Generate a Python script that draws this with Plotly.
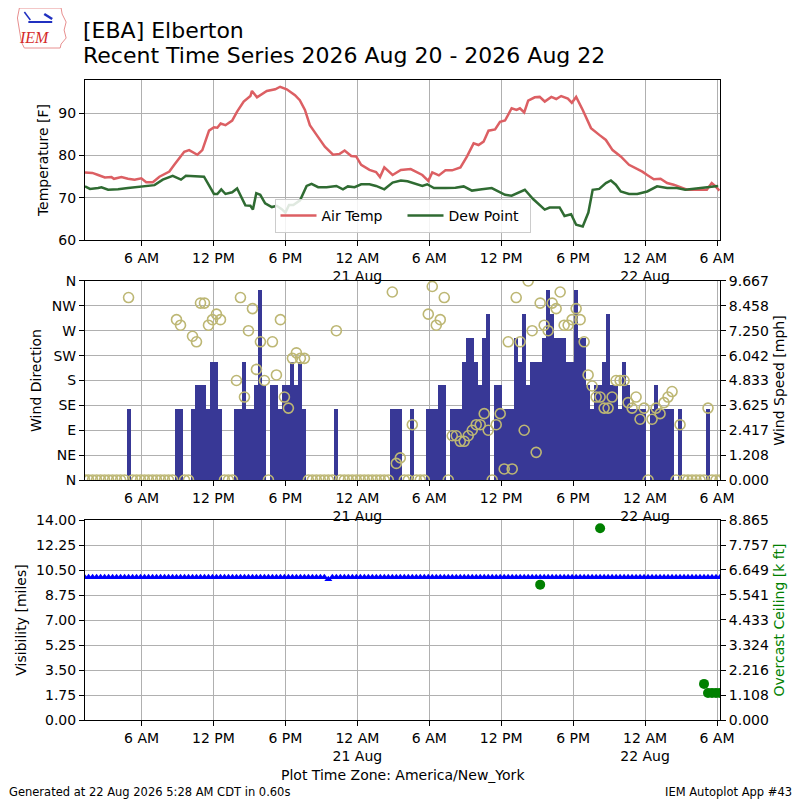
import numpy as np
import pandas as pd
import plotly.graph_objects as go

# -------------------------------
# Data
# -------------------------------

base = pd.Timestamp("2026-08-20 00:00")

# hours after 20 Aug 00:00 (America/New_York)
temp_hours = [1.28, 1.9, 2.38, 2.94, 3.49, 3.7, 4.32, 4.87, 5.42, 5.98, 6.39, 6.94,
              7.49, 8.32, 8.73, 9.56, 9.97, 10.66, 11.07, 11.63, 12.04, 12.32, 12.6,
              13.0, 13.56, 13.97, 14.52, 15.08, 15.21, 15.63, 16.45, 17.15, 17.56,
              18.11, 18.8, 19.2, 19.63, 20.04, 20.6, 21.29, 21.97, 22.53, 22.94,
              23.49, 23.9, 24.32, 25.01, 25.56, 25.89, 26.25, 26.94, 27.63, 28.45,
              28.87, 29.42, 29.92, 30.25, 30.8, 31.35, 31.9, 32.6, 33.15, 33.7,
              34.11, 34.53, 34.94, 35.49, 35.9, 36.32, 36.87, 37.28, 37.56, 37.92,
              38.25, 38.8, 39.21, 39.63, 40.18, 40.59, 41.0, 41.56, 41.89, 42.25,
              42.8, 43.49, 44.18, 44.73, 45.29, 45.97, 46.66, 47.21, 47.77, 48.18,
              48.73, 49.29, 49.84, 50.39, 50.94, 51.5, 53.15, 53.56, 53.84, 54.2]
temp_f = [76.0, 75.9, 75.4, 74.8, 74.9, 74.5, 74.9, 74.5, 74.3, 74.6, 73.7, 73.7,
          75.0, 76.2, 77.8, 80.9, 81.3, 80.2, 81.3, 85.9, 86.7, 86.6, 87.6,
          87.2, 88.3, 90.4, 92.8, 94.1, 95.3, 93.8, 95.3, 95.7, 96.3,
          95.7, 94.3, 93.1, 90.8, 87.2, 84.9, 82.1, 80.2, 80.4, 81.2,
          79.9, 79.8, 77.8, 76.6, 76.1, 74.9, 77.2, 75.4, 76.6, 76.8,
          76.2, 75.4, 74.0, 76.0, 75.3, 76.5, 76.5, 77.2, 79.8, 82.9,
          82.5, 83.3, 85.9, 86.2, 88.0, 88.3, 91.2, 90.8, 91.2, 90.2,
          93.0, 93.8, 93.9, 92.8, 93.9, 93.4, 94.1, 93.5, 92.5, 93.9,
          90.8, 86.5, 84.9, 83.7, 81.3, 79.8, 77.8, 77.0, 76.2, 75.4,
          74.4, 74.5, 73.5, 73.1, 72.5, 71.9, 71.9, 73.5, 72.8, 71.7]

dew_hours = [1.28, 1.7, 2.38, 2.66, 3.21, 4.04, 4.87, 5.7, 6.53, 7.08, 7.77, 8.6,
             9.29, 9.7, 11.21, 11.63, 12.04, 12.32, 12.65, 13.0, 13.56, 13.97,
             14.66, 15.08, 15.29, 15.57, 15.9, 16.31, 16.87, 17.28, 17.7, 18.0,
             18.3, 18.66, 19.22, 19.77, 20.18, 20.73, 21.43, 22.25, 22.8, 23.21,
             23.77, 24.32, 25.01, 25.56, 26.25, 26.94, 27.63, 28.18, 28.87, 29.42,
             29.83, 30.39, 31.35, 32.18, 32.87, 33.56, 34.39, 35.21, 36.32, 36.87,
             37.97, 38.66, 39.63, 40.04, 40.87, 41.28, 41.83, 42.25, 42.8, 43.27,
             43.63, 44.18, 44.73, 45.15, 45.56, 45.97, 46.66, 47.35, 48.18, 49.0,
             49.84, 50.66, 51.35, 53.7, 54.1]
dew_f = [72.7, 72.1, 72.3, 72.5, 71.9, 72.0, 72.3, 72.5, 72.7, 73.0, 74.3, 75.2,
         74.3, 75.2, 75.0, 72.8, 70.9, 70.9, 72.0, 70.9, 71.3, 72.2,
         68.2, 68.1, 67.2, 71.1, 70.7, 68.7, 67.8, 68.1, 67.3, 66.5,
         68.3, 68.3, 69.4, 72.8, 73.3, 72.5, 72.5, 72.8, 72.0, 72.7,
         72.5, 73.2, 73.2, 72.8, 72.0, 73.6, 74.1, 73.9, 73.2, 72.8,
         73.2, 72.3, 72.3, 72.4, 72.7, 71.7, 72.0, 72.3, 70.7, 70.5,
         71.9, 69.7, 67.2, 67.7, 67.7, 65.7, 66.1, 63.6, 63.2, 66.5,
         71.9, 72.1, 73.5, 74.1, 73.1, 71.5, 70.9, 70.9, 71.5, 72.7,
         72.3, 72.3, 71.9, 72.8, 72.8]

# 20 minute observations, 01:15 20 Aug .. 06:15 22 Aug
obs_times = pd.date_range("2026-08-20 01:15", "2026-08-22 06:15", freq="20min")

wind_mph = [0, 0, 0, 0, 0, 0, 0, 0, 0, 0,
            0, 3.45, 0, 0, 0, 0, 0, 0, 0, 0,
            0, 0, 0, 3.45, 3.45, 0, 0, 3.45, 4.6, 4.6,
            4.6, 3.45, 5.75, 5.75, 3.45, 0, 0, 0, 3.45, 3.45,
            5.75, 3.45, 3.45, 4.6, 9.21, 4.6, 0, 4.6, 4.6, 3.45,
            4.6, 4.6, 5.75, 4.6, 5.75, 3.45, 0, 0, 0, 0,
            0, 0, 0, 3.45, 0, 0, 0, 0, 0, 0,
            0, 0, 0, 0, 0, 0, 0, 3.45, 3.45, 3.45,
            0, 0, 3.45, 0, 0, 0, 3.45, 3.45, 3.45, 4.6,
            4.6, 0, 3.45, 3.45, 3.45, 5.75, 6.9, 6.9, 5.75, 4.6,
            6.9, 8.06, 0, 4.6, 4.6, 3.45, 3.45, 3.45, 6.9, 5.75,
            8.06, 4.6, 5.75, 5.75, 5.75, 6.9, 9.21, 8.06, 6.9, 6.9,
            6.9, 5.75, 5.75, 9.21, 6.9, 6.9, 4.6, 3.45, 4.6, 4.6,
            5.75, 8.06, 4.6, 4.6, 3.45, 5.75, 4.6, 3.45, 3.45, 3.45,
            3.45, 0, 3.45, 4.6, 3.45, 3.45, 3.45, 3.45, 0, 3.45,
            0, 0, 0, 0, 0, 0, 3.45, 0, 0, 0]

wind_dir = [0, 0, 0, 0, 0, 0, 0, 0, 0, 0,
            0, 330, 0, 0, 0, 0, 0, 0, 0, 0,
            0, 0, 0, 290, 280, 0, 0, 260, 250, 320,
            320, 280, 290, 300, 290, 0, 0, 0, 180, 330,
            150, 270, 310, 200, 250, 180, 0, 250, 190, 290,
            150, 130, 220, 230, 220, 220, 0, 0, 0, 0,
            0, 0, 0, 270, 0, 0, 0, 0, 0, 0,
            0, 0, 0, 0, 0, 0, 0, 340, 30, 40,
            0, 0, 100, 0, 0, 0, 300, 350, 280, 290,
            330, 0, 80, 80, 70, 70, 80, 90, 100, 100,
            120, 90, 0, 100, 120, 20, 250, 20, 330, 250,
            90, 360, 270, 50, 320, 280, 270, 320, 310, 340,
            280, 280, 290, 310, 290, 250, 190, 170, 150, 150,
            130, 130, 150, 180, 180, 180, 140, 130, 150, 110,
            130, 0, 110, 130, 120, 140, 150, 160, 0, 100,
            0, 0, 0, 0, 0, 0, 130, 0, 0, 0]

vis_miles = [10.0] * 61 + [9.85] + [10.0] * 98
ceiling_kft = [None] * 114 + [6.0] + [None] * 14 + [8.5] + [None] * 25 + [1.6, 1.2, 1.2, 1.2, 1.2]

# tick labels
time_ticks = ["2026-08-20 06:00", "2026-08-20 12:00", "2026-08-20 18:00",
              "2026-08-21 00:00", "2026-08-21 06:00", "2026-08-21 12:00",
              "2026-08-21 18:00", "2026-08-22 00:00", "2026-08-22 06:00"]
time_labels = ["6 AM", "12 PM", "6 PM", "12 AM<br>21 Aug", "6 AM", "12 PM", "6 PM",
               "12 AM<br>22 Aug", "6 AM"]
dir_labels = ["N", "NE", "E", "SE", "S", "SW", "W", "NW", "N"]
speed_labels = ["0.000", "1.208", "2.417", "3.625", "4.833", "6.042", "7.250", "8.458", "9.667"]
vis_labels = ["0.00", "1.75", "3.50", "5.25", "7.00", "8.75", "10.50", "12.25", "14.00"]
ceiling_labels = ["0.000", "1.108", "2.216", "3.324", "4.433", "5.541", "6.649", "7.757", "8.865"]

# -------------------------------
# Plot
# -------------------------------

FONT = "DejaVu Sans"
GRID = "#b0b0b0"
FS = 14

temp_t = base + pd.to_timedelta(temp_hours, unit="h")
dew_t = base + pd.to_timedelta(dew_hours, unit="h")

fig = go.Figure()

fig.add_trace(go.Scatter(x=temp_t, y=temp_f, mode="lines", name="Air Temp",
                         line=dict(color="#dc5f63", width=2.5), xaxis="x", yaxis="y"))
fig.add_trace(go.Scatter(x=dew_t, y=dew_f, mode="lines", name="Dew Point",
                         line=dict(color="#2f6b32", width=2.5), xaxis="x", yaxis="y"))

fig.add_trace(go.Bar(x=obs_times, y=wind_mph, width=20 * 60 * 1000, marker_color="#383896",
                     marker_line_width=0, showlegend=False, xaxis="x2", yaxis="y2"))
fig.add_trace(go.Scatter(x=obs_times, y=wind_dir, mode="markers", showlegend=False,
                         marker=dict(symbol="circle-open", size=10, color="#bdb774",
                                     line=dict(width=1.6)),
                         xaxis="x2", yaxis="y3"))

fig.add_trace(go.Scatter(x=obs_times, y=vis_miles, mode="markers", showlegend=False,
                         marker=dict(symbol="triangle-up", size=7, color="blue"),
                         xaxis="x3", yaxis="y4"))
fig.add_trace(go.Scatter(x=obs_times, y=ceiling_kft, mode="markers", showlegend=False,
                         marker=dict(symbol="circle", size=10, color="green"),
                         xaxis="x3", yaxis="y5"))

xrange = ["2026-08-20 01:17", "2026-08-22 06:15"]


def xax(anchor):
    return dict(anchor=anchor, domain=[0, 1], range=xrange, type="date",
                tickvals=time_ticks, ticktext=time_labels, showgrid=True,
                gridcolor=GRID, gridwidth=1, showline=True, mirror=True,
                linecolor="black", linewidth=1, ticks="outside", ticklen=5,
                tickcolor="black", tickfont=dict(size=FS, color="black"))


def yax(domain, vals, text, title, side="left", overlay=None, grid=True,
        title_color="black"):
    d = dict(range=[vals[0], vals[-1]], tickvals=vals, ticktext=text,
             side=side, showgrid=grid, gridcolor=GRID, gridwidth=1,
             showline=True, mirror=True, linecolor="black", linewidth=1,
             ticks="outside", ticklen=5, tickcolor="black", zeroline=False,
             tickfont=dict(size=FS, color="black"),
             title=dict(text=title, font=dict(size=FS, color=title_color), standoff=6))
    if overlay:
        d["overlaying"] = overlay
    else:
        d["domain"] = domain
    return d


speed_vals = [float(s) for s in speed_labels]
ceil_vals = [float(s) for s in ceiling_labels]
vis_vals = [float(s) for s in vis_labels]

temp_axis = yax([0.75, 1.0], [60, 70, 80, 90], ["60", "70", "80", "90"], "Temperature [F]")
temp_axis["range"] = [60, 97.9]
temp_axis["anchor"] = "x"

# the page has an 8px body margin, so the figure is drawn 8px smaller
fig.update_layout(
    width=792,
    height=792,
    paper_bgcolor="white",
    plot_bgcolor="white",
    font=dict(family=FONT, size=FS, color="black"),
    margin=dict(l=73, r=80, t=72, b=80),
    bargap=0,
    showlegend=True,
    legend=dict(orientation="h", x=0.5, xanchor="center", y=0.761, yanchor="bottom",
                bgcolor="rgba(255,255,255,0.85)", bordercolor="#cccccc", borderwidth=1,
                entrywidth=76, itemwidth=36, font=dict(size=FS)),
    xaxis=xax("y"),
    xaxis2=xax("y2"),
    xaxis3=xax("y4"),
    yaxis=temp_axis,
    yaxis2=dict(yax([0.375, 0.686], speed_vals, speed_labels, "Wind Speed [mph]", side="right"),
                anchor="x2"),
    yaxis3=dict(yax(None, [0, 45, 90, 135, 180, 225, 270, 315, 360], dir_labels,
                    "Wind Direction", side="left", overlay="y2", grid=False), anchor="x2"),
    yaxis4=dict(yax([0, 0.3125], vis_vals, vis_labels, "Visibility [miles]"), anchor="x3"),
    yaxis5=dict(yax(None, ceil_vals, ceiling_labels, "Overcast Ceiling [k ft]", side="right",
                    overlay="y4", grid=False, title_color="green"), anchor="x3"),
)


# -------------------------------
# Logo, titles and footer
# -------------------------------

def px(x, y):
    # window pixel -> paper coords (plot area 81..720 x 80..720)
    return (x - 81) / 639, (720 - y) / 640


outline = [(15, 8), (57, 8), (58, 14), (62, 22), (60, 30), (62, 38), (57, 44),
           (56, 48), (20, 48), (17, 42), (15, 30), (13, 18)]
path = "M " + " L ".join("%.4f,%.4f" % px(a, b) for a, b in outline) + " Z"
fig.add_shape(type="path", path=path, xref="paper", yref="paper",
              line=dict(color="#e89090", width=1))
for (a, b), (c, d), w in [((24, 22), (48, 22), 2), ((20, 12), (26, 20), 1.5),
                          ((40, 14), (48, 19), 2.5)]:
    x0, y0 = px(a, b)
    x1, y1 = px(c, d)
    fig.add_shape(type="line", x0=x0, y0=y0, x1=x1, y1=y1, xref="paper", yref="paper",
                  line=dict(color="#2030c0", width=w))

lx, ly = px(30, 38)
fig.add_annotation(text="<i>IEM</i>", xref="paper", yref="paper", x=lx, y=ly,
                   xanchor="center", yanchor="middle", showarrow=False,
                   font=dict(family="Liberation Serif", size=16, color="#d42a2a"))

tx, _ = px(77, 0)
_, ty1 = px(0, 30)
_, ty2 = px(0, 55)
fig.add_annotation(text="[EBA] Elberton", xref="paper", yref="paper", x=tx, y=ty1,
                   xanchor="left", yanchor="middle", showarrow=False, font=dict(size=22))
fig.add_annotation(text="Recent Time Series 2026 Aug 20 - 2026 Aug 22", xref="paper",
                   yref="paper", x=tx, y=ty2, xanchor="left", yanchor="middle",
                   showarrow=False, font=dict(size=22))

_, tz = px(0, 775)
fig.add_annotation(text="Plot Time Zone: America/New_York", xref="paper", yref="paper",
                   x=0.5, y=tz, xanchor="center", yanchor="middle", showarrow=False,
                   font=dict(size=14))
gx, gy = px(3, 792)
fig.add_annotation(text="Generated at 22 Aug 2026 5:28 AM CDT in 0.60s", xref="paper",
                   yref="paper", x=gx, y=gy, xanchor="left", yanchor="middle",
                   showarrow=False, font=dict(size=11.5))
ax_, _ = px(794, 0)
fig.add_annotation(text="IEM Autoplot App #43", xref="paper", yref="paper", x=ax_,
                   y=gy, xanchor="right", yanchor="middle", showarrow=False,
                   font=dict(size=11.5))

fig.write_html("out.html")
